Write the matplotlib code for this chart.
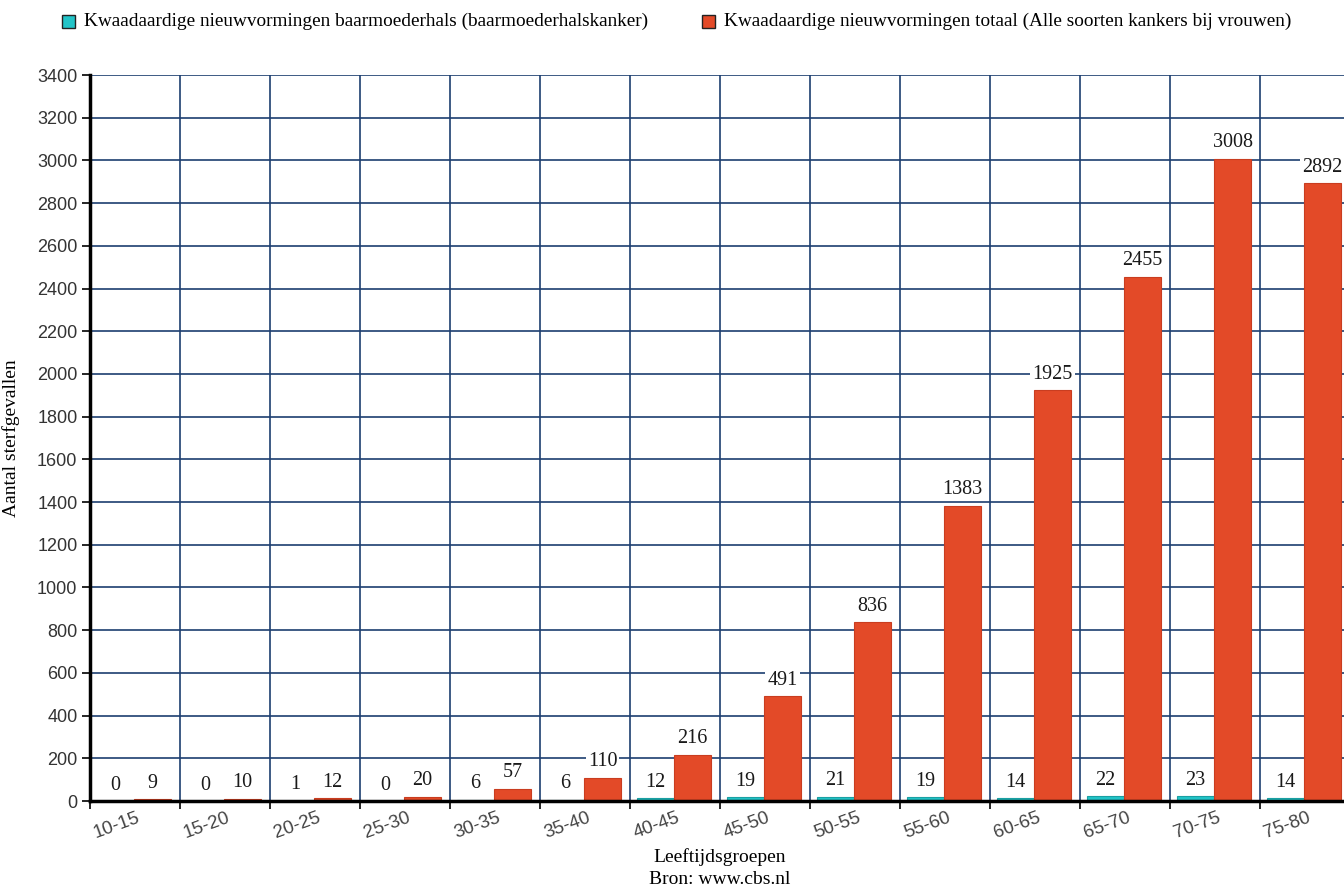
import numpy as np
import matplotlib
matplotlib.use("Agg")
import matplotlib.pyplot as plt
from matplotlib.patches import Rectangle

# Leeftijdsgroepen en sterfgevallen (bron: CBS)
groepen = ["10-15", "15-20", "20-25", "25-30", "30-35", "35-40", "40-45",
           "45-50", "50-55", "55-60", "60-65", "65-70", "70-75", "75-80"]
baarmoederhals = [0, 0, 1, 0, 6, 6, 12, 19, 21, 19, 14, 22, 23, 14]
totaal = [9, 10, 12, 20, 57, 110, 216, 491, 836, 1383, 1925, 2455, 3008, 2892]
naam_hals = "Kwaadaardige nieuwvormingen baarmoederhals (baarmoederhalskanker)"
naam_totaal = "Kwaadaardige nieuwvormingen totaal (Alle soorten kankers bij vrouwen)"

kleur_hals = "#22c4c8"
kleur_totaal = "#e34a28"
grid_kleur = "#1d3e70"
serif = ["Liberation Serif", "DejaVu Serif"]

fig = plt.figure(figsize=(13.44, 8.88), dpi=100)
ax = fig.add_axes([90/1344, 87/888, 1260/1344, 726/888])

x = np.arange(len(groepen))
w = 0.41
b1 = ax.bar(x + 0.285, baarmoederhals, w, color=kleur_hals, edgecolor="#1aa0a3", linewidth=0.8, zorder=3)
b2 = ax.bar(x + 0.695, totaal, w, color=kleur_totaal, edgecolor="#c93d20", linewidth=0.8, zorder=3)

for rects, vals in ((b1, baarmoederhals), (b2, totaal)):
    for r, v in zip(rects, vals):
        ax.text(r.get_x() + r.get_width()/2, v + 30, str(v), ha="center", va="bottom",
                fontsize=14.5, family=serif, color="#1a1a1a", zorder=4,
                bbox=dict(facecolor="white", edgecolor="none", pad=1.5))

ax.set_xlim(0, len(groepen))
ax.set_ylim(0, 3400)
ax.set_yticks(np.arange(0, 3401, 200))
ax.set_xticks(np.arange(0, len(groepen) + 1))
ax.set_xticklabels([])
ax.set_xticks(x + 0.3, minor=True)
ax.set_xticklabels(groepen, minor=True, rotation=20, ha="center", fontsize=13.5,
                   family=["Liberation Sans"], color="#444444")
ax.tick_params(axis="x", which="minor", length=0, pad=6)
ax.tick_params(axis="x", which="major", length=6, width=1.2, color="black")
ax.tick_params(axis="y", length=6, width=1.2, labelsize=13, labelcolor="#333333", pad=3)
for lbl in ax.get_yticklabels():
    lbl.set_family(["Liberation Sans"])

ax.grid(True, which="major", color=grid_kleur, linewidth=1.2, zorder=0)
ax.set_axisbelow(True)
for s in ("top", "right"):
    ax.spines[s].set_visible(False)
ax.spines["left"].set_linewidth(2.5)
ax.spines["bottom"].set_linewidth(2.5)
ax.spines["left"].set_zorder(5)
ax.spines["bottom"].set_zorder(5)

ax.set_ylabel("Aantal sterfgevallen", fontsize=14, family=serif, labelpad=12)
fig.text(720/1344, 1 - 857/888, "Leeftijdsgroepen", ha="center", va="center", fontsize=14, family=serif)
fig.text(720/1344, 1 - 879/888, "Bron: www.cbs.nl", ha="center", va="center", fontsize=14, family=serif)

# legenda bovenaan
for xs, kleur, naam in ((62, kleur_hals, naam_hals), (702, kleur_totaal, naam_totaal)):
    fig.patches.append(Rectangle((xs/1344, 1 - 28/888), 13/1344, 13/888, transform=fig.transFigure,
                                 facecolor=kleur, edgecolor="#222222", linewidth=1))
    fig.text((xs + 22)/1344, 1 - 21/888, naam, ha="left", va="center", fontsize=13.9, family=serif)

fig.savefig("out.png", dpi=100)
